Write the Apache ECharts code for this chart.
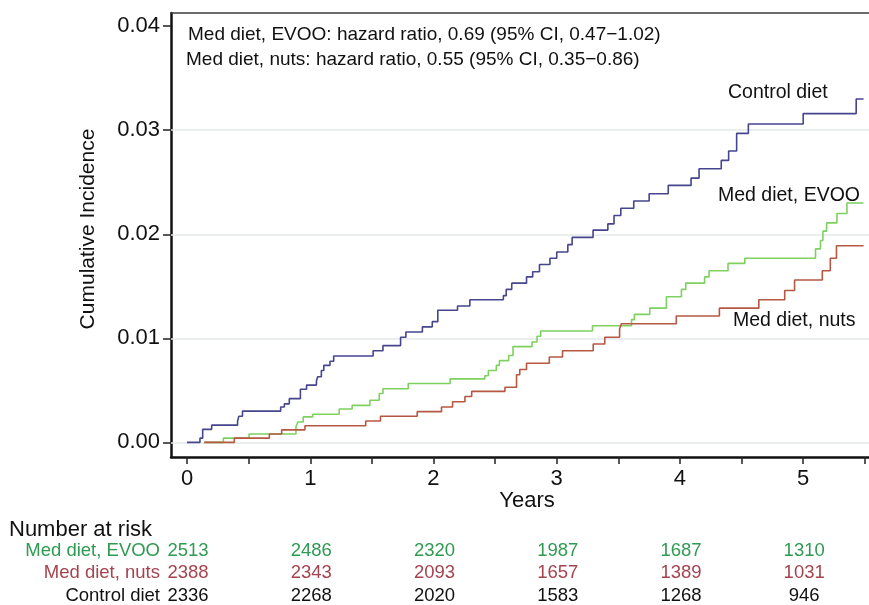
<!DOCTYPE html>
<html>
<head>
<meta charset="utf-8">
<script src="https://cdn.jsdelivr.net/npm/echarts@6/dist/echarts.min.js"></script>
<style>
  html, body { margin: 0; padding: 0; background: #ffffff; }
  #chart { width: 869px; height: 605px; }
</style>
</head>
<body>
<div id="chart"></div>
<script>
// Cumulative incidence by intervention arm (step functions: event time, incidence after the event)
const controlTimes = [0, 0.105, 0.127, 0.2, 0.41, 0.42, 0.45, 0.76, 0.79, 0.83, 0.92, 0.97, 1.05, 1.06, 1.09, 1.11, 1.16, 1.19, 1.51, 1.59, 1.733, 1.776, 1.91, 1.99, 2.035, 2.195, 2.295, 2.567, 2.59, 2.635, 2.755, 2.805, 2.86, 2.945, 3.0, 3.09, 3.125, 3.295, 3.415, 3.465, 3.52, 3.625, 3.75, 3.905, 4.09, 4.155, 4.335, 4.395, 4.46, 4.555, 5.0, 5.43, 5.49];
const controlIncidence = [0, 0.0004, 0.00125, 0.00165, 0.002, 0.0025, 0.003, 0.0034, 0.0037, 0.0042, 0.0051, 0.0055, 0.0059, 0.0063, 0.0069, 0.0074, 0.0078, 0.0083, 0.0088, 0.0093, 0.0101, 0.0106, 0.0111, 0.0116, 0.0127, 0.0131, 0.0137, 0.0141, 0.0147, 0.0153, 0.0159, 0.0164, 0.0171, 0.0177, 0.0183, 0.019, 0.0197, 0.0204, 0.021, 0.0218, 0.0225, 0.0232, 0.0239, 0.0247, 0.0254, 0.0263, 0.0271, 0.028, 0.0297, 0.0306, 0.0316, 0.033, 0.033];

const evooTimes = [0.14, 0.295, 0.503, 0.884, 0.9, 0.943, 1.02, 1.235, 1.34, 1.484, 1.56, 1.59, 1.795, 2.135, 2.417, 2.445, 2.51, 2.535, 2.61, 2.645, 2.8, 2.84, 2.87, 3.29, 3.607, 3.63, 3.755, 3.89, 4.012, 4.047, 4.2, 4.236, 4.39, 4.526, 5.1, 5.14, 5.16, 5.19, 5.274, 5.355, 5.49];
const evooIncidence = [0, 0.0004, 0.0008, 0.0015, 0.00195, 0.00245, 0.0027, 0.0032, 0.00355, 0.00405, 0.0047, 0.00515, 0.00565, 0.0061, 0.0064, 0.0069, 0.0074, 0.00785, 0.00835, 0.0092, 0.00965, 0.0102, 0.0107, 0.0112, 0.0118, 0.0123, 0.0129, 0.014, 0.0147, 0.0153, 0.0159, 0.0165, 0.0172, 0.0177, 0.0186, 0.0194, 0.0203, 0.0211, 0.022, 0.023, 0.023];

const nutsTimes = [0.14, 0.384, 0.668, 0.768, 0.957, 1.45, 1.57, 1.868, 2.065, 2.155, 2.255, 2.31, 2.58, 2.674, 2.7, 2.755, 2.94, 3.047, 3.296, 3.39, 3.51, 3.525, 3.97, 4.32, 4.64, 4.85, 4.93, 5.155, 5.22, 5.27, 5.49];
const nutsIncidence = [0, 0.0004, 0.0008, 0.0012, 0.0016, 0.00205, 0.0025, 0.00295, 0.0034, 0.0039, 0.0044, 0.0049, 0.0053, 0.0065, 0.007, 0.0076, 0.0082, 0.0088, 0.00945, 0.0101, 0.0109, 0.0114, 0.01215, 0.0129, 0.0137, 0.0146, 0.0156, 0.0165, 0.0177, 0.0189, 0.0189];

// Axis ticks and reference lines
const xTickMarks = [0, 0.5, 1, 1.5, 2, 2.5, 3, 3.5, 4, 4.5, 5, 5.5];
const xTickLabels = [0, 1, 2, 3, 4, 5];
const yTickValues = [0, 0.01, 0.02, 0.03, 0.04];
const gridValues = [0, 0.01, 0.02, 0.03];

// Number-at-risk table
const riskYears = [0, 1, 2, 3, 4, 5];
const riskEvoo = [2513, 2486, 2320, 1987, 1687, 1310];
const riskNuts = [2388, 2343, 2093, 1657, 1389, 1031];
const riskControl = [2336, 2268, 2020, 1583, 1268, 946];

const hazardNotes = [
  'Med diet, EVOO: hazard ratio, 0.69 (95% CI, 0.47\u22121.02)',
  'Med diet, nuts: hazard ratio, 0.55 (95% CI, 0.35\u22120.86)'
];

const FONT = '"Liberation Sans", Arial, Helvetica, sans-serif';
const COL_CONTROL = '#46458d';
const COL_EVOO = '#7ed160';
const COL_NUTS = '#b65841';

const pairs = (t, v) => t.map((x, i) => [x, v[i]]);

const chart = echarts.init(document.getElementById('chart'), null, { renderer: 'canvas' });

const X_MIN = -0.13, X_MAX = 5.534;

const option = {
  animation: false,
  backgroundColor: '#ffffff',
  grid: { left: 171, top: 13, right: 0, bottom: 148, show: false },
  xAxis: [
    {
      type: 'value', min: X_MIN, max: X_MAX,
      axisLine: { show: true, onZero: false, lineStyle: { color: '#111111', width: 2.5 } },
      axisTick: { show: true, customValues: xTickMarks, length: 7, lineStyle: { color: '#222222', width: 1.5 } },
      axisLabel: { customValues: xTickLabels, fontSize: 22, color: '#111111', fontFamily: FONT, margin: 11 },
      splitLine: { show: false }
    },
    {
      // top frame line of the plot box
      type: 'value', position: 'top', min: X_MIN, max: X_MAX,
      axisLine: { show: true, onZero: false, lineStyle: { color: '#3c3c3c', width: 1.5 } },
      axisTick: { show: false }, axisLabel: { show: false }, splitLine: { show: false }
    }
  ],
  yAxis: {
    type: 'value', min: -0.00141, max: 0.04127,
    axisLine: { show: true, onZero: false, lineStyle: { color: '#111111', width: 2.5 } },
    axisTick: { show: true, customValues: yTickValues, length: 8, lineStyle: { color: '#222222', width: 1.5 } },
    axisLabel: { customValues: yTickValues, formatter: v => v.toFixed(2), fontSize: 22, color: '#111111', fontFamily: FONT, margin: 11 },
    splitLine: { show: false }
  },
  series: [
    {
      type: 'line', name: 'Control diet', step: 'end', z: 3,
      data: pairs(controlTimes, controlIncidence),
      showSymbol: false, symbol: 'none',
      lineStyle: { color: COL_CONTROL, width: 1.6 },
      markLine: {
        silent: true, symbol: 'none', z: 1, animation: false,
        label: { show: false },
        lineStyle: { color: '#e3e8e8', width: 1.6, type: 'solid' },
        data: gridValues.map(v => ({ yAxis: v }))
      }
    },
    {
      type: 'line', name: 'Med diet, EVOO', step: 'end', z: 4,
      data: pairs(evooTimes, evooIncidence),
      showSymbol: false, symbol: 'none',
      lineStyle: { color: COL_EVOO, width: 1.6 }
    },
    {
      type: 'line', name: 'Med diet, nuts', step: 'end', z: 5,
      data: pairs(nutsTimes, nutsIncidence),
      showSymbol: false, symbol: 'none',
      lineStyle: { color: COL_NUTS, width: 1.6 }
    }
  ]
};

chart.setOption(option);

// Text annotations and the number-at-risk table
const txt = (text, x, y, opts) => Object.assign({
  type: 'text', x: x, y: y, silent: true, z: 10,
  style: Object.assign({
    text: text, fill: '#111111', font: '19px ' + FONT,
    textAlign: 'left', textVerticalAlign: 'middle'
  }, opts || {})
});

const graphics = [];
graphics.push(txt(hazardNotes[0], 188, 35, { font: '19px ' + FONT }));
graphics.push(txt(hazardNotes[1], 186, 60, { font: '19px ' + FONT }));
graphics.push(txt('Control diet', 728, 93, { font: '19.5px ' + FONT }));
graphics.push(txt('Med diet, EVOO', 718, 196, { font: '19.5px ' + FONT }));
graphics.push(txt('Med diet, nuts', 733, 321, { font: '19.5px ' + FONT }));
graphics.push(txt('Years', 527, 501, { font: '22px ' + FONT, textAlign: 'center' }));
graphics.push(Object.assign(txt('Cumulative Incidence', 88, 229, { font: '21px ' + FONT, textAlign: 'center' }), { rotation: Math.PI / 2 }));
graphics.push(txt('Number at risk', 9, 530, { font: '22px ' + FONT }));

const rows = [
  { label: 'Med diet, EVOO', values: riskEvoo, color: '#2f9a52', y: 551 },
  { label: 'Med diet, nuts', values: riskNuts, color: '#a5434f', y: 573 },
  { label: 'Control diet', values: riskControl, color: '#111111', y: 596 }
];
rows.forEach(r => {
  graphics.push(txt(r.label, 160, r.y, { font: '18.5px ' + FONT, fill: r.color, textAlign: 'right' }));
  riskYears.forEach((yr, i) => {
    const px = chart.convertToPixel({ xAxisIndex: 0 }, yr);
    graphics.push(txt(String(r.values[i]), px + 1, r.y, { font: '18.5px ' + FONT, fill: r.color, textAlign: 'center' }));
  });
});

chart.setOption({ graphic: graphics });
</script>
</body>
</html>
